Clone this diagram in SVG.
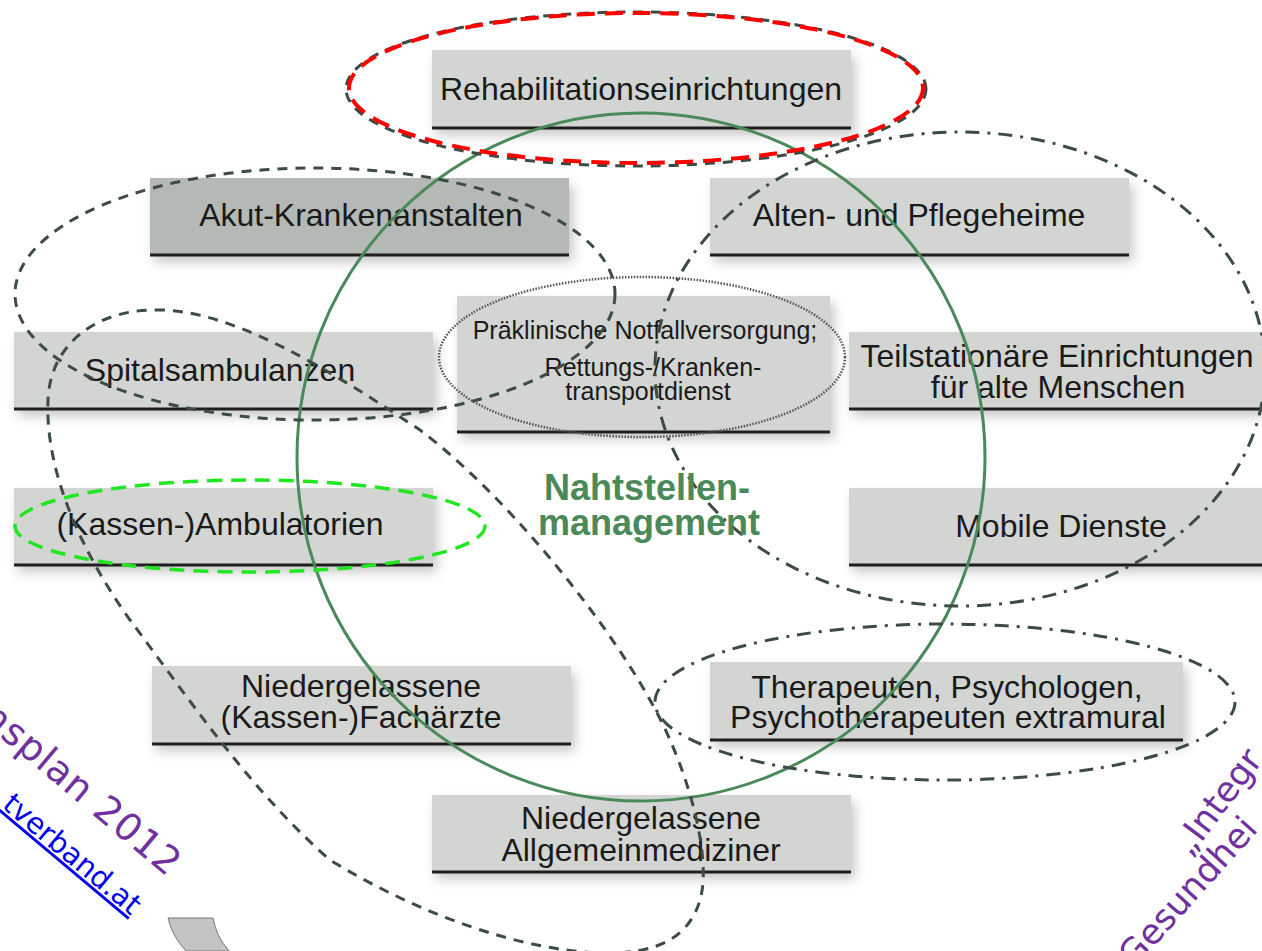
<svg xmlns="http://www.w3.org/2000/svg" width="1262" height="951" viewBox="0 0 1262 951">
<defs>
<filter id="sh" x="-10%" y="-20%" width="125%" height="160%">
<feDropShadow dx="4" dy="7" stdDeviation="6" flood-color="#000" flood-opacity="0.22"/>
</filter>
<style>
.box{fill:#d2d5d2;filter:url(#sh)}
.box.dark{fill:#b5b9b5}
.base{stroke:#1e1e1e;stroke-width:3}
.lbl{font-family:"Liberation Sans",Arial,sans-serif;font-size:32px;fill:#1a1a1a;text-anchor:middle}
.small{font-size:25px}
.dash{fill:none;stroke:#3c4c44;stroke-width:3;stroke-dasharray:10 8}
.dashdot{fill:none;stroke:#3c4c44;stroke-width:3;stroke-dasharray:14 8 3 8}
.dot{fill:none;stroke:#555;stroke-width:2.5;stroke-dasharray:1.5 1.5}
.red{fill:none;stroke:#ff0000;stroke-width:4;stroke-dasharray:18 10}
.lime{fill:none;stroke:#22e622;stroke-width:3.5;stroke-dasharray:15 9}
.circ{fill:none;stroke:#4a8a5a;stroke-width:3}
.wm{font-family:"DejaVu Sans",Verdana,sans-serif;fill:#7030a0}
.link{font-family:"DejaVu Sans",Verdana,sans-serif;fill:#0000ee;text-decoration:underline}
.ctr{font-family:"Liberation Sans",Arial,sans-serif;font-size:36px;font-weight:bold;fill:#4a8a5a;text-anchor:middle}
</style>
</defs>
<rect width="1262" height="951" fill="#fff"/>

<g id="n-rehab"><rect class="box" x="432" y="50" width="419" height="78"/><line class="base" x1="432" y1="128" x2="851" y2="128"/><text class="lbl" x="641" y="100">Rehabilitationseinrichtungen</text></g>
<g id="n-akut"><rect class="box dark" x="150" y="178" width="419" height="77"/><line class="base" x1="150" y1="255" x2="569" y2="255"/><text class="lbl" x="361" y="226">Akut-Krankenanstalten</text></g>
<g id="n-alten"><rect class="box" x="710" y="178" width="419" height="77"/><line class="base" x1="710" y1="255" x2="1129" y2="255"/><text class="lbl" x="919" y="226">Alten- und Pflegeheime</text></g>
<g id="n-spital"><rect class="box" x="14" y="332" width="419" height="77"/><line class="base" x1="14" y1="409" x2="433" y2="409"/><text class="lbl" x="220" y="381">Spitalsambulanzen</text></g>
<g id="n-praek"><rect class="box" x="457" y="296" width="373" height="136"/><line class="base" x1="457" y1="432" x2="830" y2="432"/><text class="lbl small" x="645" y="339">Präklinische Notfallversorgung;</text><text class="lbl small" x="653" y="376">Rettungs-/Kranken-</text><text class="lbl small" x="648" y="400">transportdienst</text></g>
<g id="n-teil"><rect class="box" x="849" y="332" width="420" height="77"/><line class="base" x1="849" y1="409" x2="1262" y2="409"/><text class="lbl" x="1057" y="367">Teilstationäre Einrichtungen</text><text class="lbl" x="1058" y="398">für alte Menschen</text></g>
<g id="n-kassen"><rect class="box" x="14" y="488" width="419" height="77"/><line class="base" x1="14" y1="565" x2="433" y2="565"/><text class="lbl" x="220" y="535">(Kassen-)Ambulatorien</text></g>
<g id="n-mobile"><rect class="box" x="849" y="488" width="420" height="77"/><line class="base" x1="849" y1="565" x2="1262" y2="565"/><text class="lbl" x="1061" y="537">Mobile Dienste</text></g>
<g id="n-fach"><rect class="box" x="152" y="666" width="419" height="78"/><line class="base" x1="152" y1="744" x2="571" y2="744"/><text class="lbl" x="361" y="697">Niedergelassene</text><text class="lbl" x="361" y="728">(Kassen-)Fachärzte</text></g>
<g id="n-thera"><rect class="box" x="710" y="662" width="473" height="78"/><line class="base" x1="710" y1="740" x2="1183" y2="740"/><text class="lbl" x="947" y="698">Therapeuten, Psychologen,</text><text class="lbl" x="948" y="728">Psychotherapeuten extramural</text></g>
<g id="n-allg"><rect class="box" x="432" y="795" width="419" height="77"/><line class="base" x1="432" y1="872" x2="851" y2="872"/><text class="lbl" x="641" y="829">Niedergelassene</text><text class="lbl" x="641" y="861">Allgemeinmediziner</text></g>

<g id="connectors">
<circle class="circ" cx="641" cy="457" r="344"/>
<ellipse class="dash" cx="636" cy="89" rx="290" ry="77"/>
<ellipse class="red" cx="636" cy="88" rx="287" ry="75"/>
<ellipse class="dash" cx="315" cy="294" rx="300" ry="126"/>
<path class="dash" d="M155,310 C230,308 330,370 420,430 C500,490 600,610 650,700 C690,770 712,860 700,900 C690,935 660,955 600,953 C520,950 420,915 330,860 C250,790 190,700 130,620 C80,550 45,470 48,400 C50,345 95,310 155,310 Z"/>
<ellipse class="dashdot" cx="960" cy="369" rx="305" ry="237"/>
<ellipse class="dashdot" cx="945" cy="702" rx="290" ry="78"/>
<ellipse class="dot" cx="642" cy="357" rx="203" ry="80"/>
<ellipse class="lime" cx="250" cy="526" rx="235" ry="46"/>
</g>

<g id="center-label">
<text class="ctr" x="647" y="500">Nahtstellen-</text>
<text class="ctr" x="649" y="535">management</text>
</g>

<g id="watermark">
<text class="wm" font-size="38" letter-spacing="1" text-anchor="end" transform="translate(168,878) rotate(40)">nsplan 2012</text>
<text class="link" font-size="29" text-anchor="end" transform="translate(131,916) rotate(40)">tverband.at</text>
<text class="wm" font-size="35" transform="translate(1190,858) rotate(-53)">„Integr</text>
<text class="wm" font-size="35" transform="translate(1134,969) rotate(-48)">Gesundhei</text>
<path d="M168,918 L213,918 Q216,936 229,951 L186,951 Q172,936 168,918 Z" fill="#c4c4c4" stroke="#777" stroke-width="1"/>
</g>
</svg>
